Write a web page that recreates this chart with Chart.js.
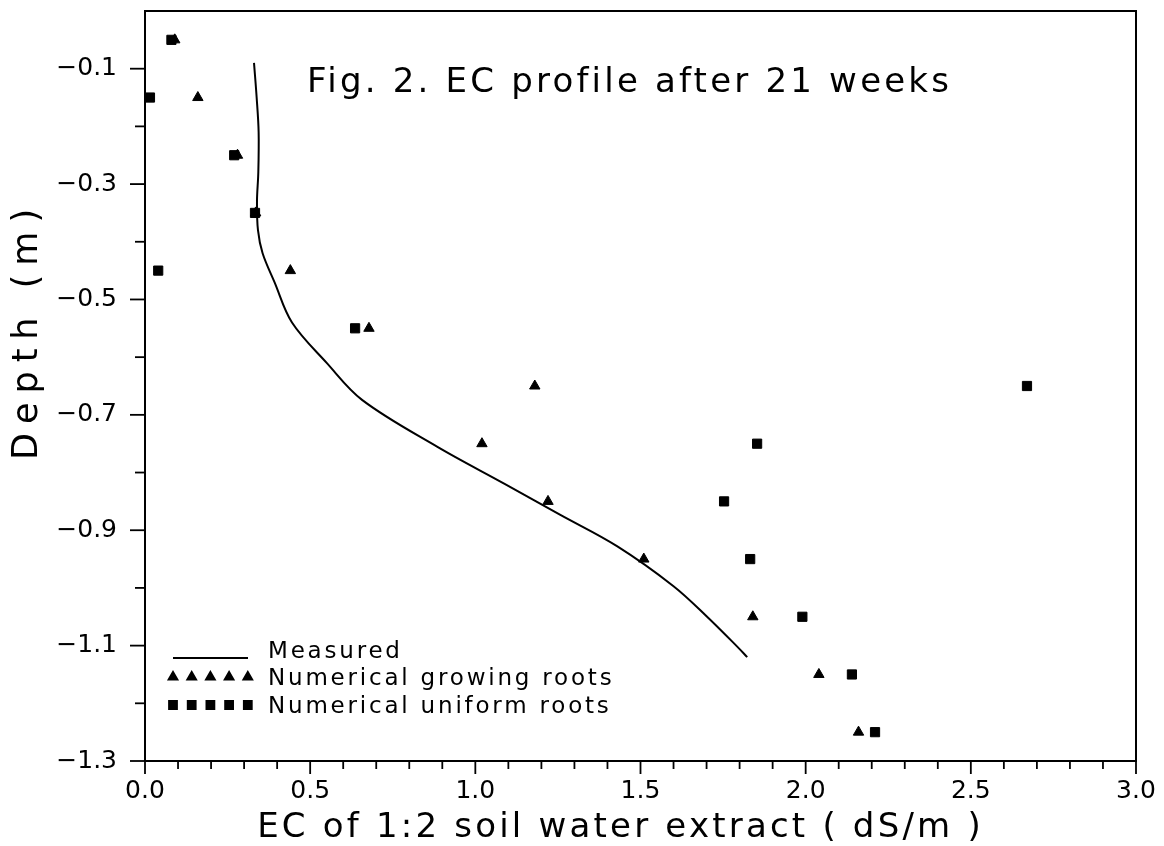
<!DOCTYPE html>
<html>
<head>
<meta charset="utf-8">
<title>EC profile after 21 weeks</title>
<script src="https://cdn.jsdelivr.net/npm/chart.js@4/dist/chart.umd.min.js"></script>
<style>
  html, body { margin: 0; padding: 0; background: #fff; }
</style>
</head>
<body>
<canvas id="ecChart" width="1164" height="846"></canvas>
<script>
// Depth of each sampled layer (m)
const depths = [-0.05, -0.15, -0.25, -0.35, -0.45, -0.55, -0.65, -0.75, -0.85, -0.95, -1.05, -1.15, -1.25];
// Simulated EC (dS/m) for each layer
const growingRoots = [0.09, 0.16, 0.28, 0.335, 0.44, 0.678, 1.18, 1.02, 1.22, 1.51, 1.84, 2.04, 2.16];
const uniformRoots = [0.08, 0.015, 0.27, 0.333, 0.04, 0.636, 2.67, 1.853, 1.753, 1.832, 1.99, 2.14, 2.21];
// Measured profile
const measuredEC = [0.330, 0.338, 0.344, 0.343, 0.339, 0.342, 0.356, 0.392, 0.445, 0.55, 0.657, 0.884, 1.09, 1.256, 1.43, 1.60, 1.70, 1.795, 1.823];
const measuredDepth = [-0.09, -0.15, -0.21, -0.28, -0.33, -0.38, -0.42, -0.47, -0.54, -0.61, -0.674, -0.755, -0.82, -0.873, -0.928, -0.997, -1.049, -1.103, -1.12];
// Labelled ticks
const xTickLabels = [0.0, 0.5, 1.0, 1.5, 2.0, 2.5, 3.0];
const yTickLabels = [-0.1, -0.3, -0.5, -0.7, -0.9, -1.1, -1.3];

const FONT = '"DejaVu Sans", sans-serif';

function isLabelled(v, list) {
  return list.some(l => Math.abs(l - v) < 1e-6);
}

function pairs(xs, ys) {
  return xs.map((x, i) => ({ x: x, y: ys[i] }));
}

// frame, tick marks, title text, legend and axis titles
const paperPlugin = {
  id: 'paper',
  afterDraw(chart) {
    const { ctx, chartArea: a, scales } = chart;
    ctx.save();
    ctx.strokeStyle = '#000';
    ctx.fillStyle = '#000';
    ctx.lineWidth = 2;
    ctx.strokeRect(a.left, a.top, a.right - a.left, a.bottom - a.top);

    ctx.lineWidth = 1.8;
    scales.x.ticks.forEach(t => {
      const px = scales.x.getPixelForValue(t.value);
      const len = isLabelled(t.value, xTickLabels) ? 13 : 8;
      ctx.beginPath();
      ctx.moveTo(px, a.bottom);
      ctx.lineTo(px, a.bottom + len);
      ctx.stroke();
    });
    scales.y.ticks.forEach(t => {
      if (t.value > -0.05) return;
      const py = scales.y.getPixelForValue(t.value);
      const len = isLabelled(t.value, yTickLabels) ? 15 : 10;
      ctx.beginPath();
      ctx.moveTo(a.left, py);
      ctx.lineTo(a.left - len, py);
      ctx.stroke();
    });

    // title inside the plot
    ctx.font = '34px ' + FONT;
    ctx.textBaseline = 'alphabetic';
    ctx.textAlign = 'left';
    ctx.letterSpacing = '3.2px';
    ctx.fillText('Fig. 2. EC profile after 21 weeks', a.left + 162, a.top + 81);

    // legend
    const lx = a.left + 28;
    const tx = a.left + 123;
    ctx.font = '23px ' + FONT;
    ctx.letterSpacing = '2.8px';
    ctx.lineWidth = 2;
    ctx.beginPath();
    ctx.moveTo(lx, a.bottom - 103);
    ctx.lineTo(lx + 75, a.bottom - 103);
    ctx.stroke();
    ctx.fillText('Measured', tx, a.bottom - 103);
    for (let i = 0; i < 5; i++) {
      Chart.helpers.drawPoint(ctx, { pointStyle: 'triangle', radius: 5, borderWidth: 1 }, lx + i * 18.7, a.bottom - 84);
      Chart.helpers.drawPoint(ctx, { pointStyle: 'rect', radius: 5.5, borderWidth: 1 }, lx + i * 18.7, a.bottom - 56);
    }
    ctx.fillText('Numerical growing roots', tx, a.bottom - 76);
    ctx.fillText('Numerical uniform roots', tx, a.bottom - 48);

    // axis titles
    ctx.font = '34px ' + FONT;
    ctx.letterSpacing = '3.2px';
    ctx.textAlign = 'center';
    ctx.fillText('EC of 1:2 soil water extract ( dS/m )', (a.left + a.right) / 2 - 20, a.bottom + 76);
    ctx.save();
    ctx.translate(37, 330);
    ctx.rotate(-Math.PI / 2);
    ctx.font = '35px ' + FONT;
    ctx.letterSpacing = '9px';
    ctx.fillText('Depth (m)', 0, 0);
    ctx.restore();
    ctx.restore();
  }
};

new Chart(document.getElementById('ecChart'), {
  type: 'scatter',
  data: {
    datasets: [
      {
        label: 'Measured',
        data: pairs(measuredEC, measuredDepth),
        showLine: true,
        tension: 0.35,
        pointRadius: 0,
        borderColor: '#000',
        borderWidth: 2
      },
      {
        label: 'Numerical growing roots',
        data: pairs(growingRoots, depths),
        pointStyle: 'triangle',
        pointRadius: 6,
        backgroundColor: '#000',
        borderColor: '#000',
        borderWidth: 1
      },
      {
        label: 'Numerical uniform roots',
        data: pairs(uniformRoots, depths),
        pointStyle: 'rect',
        pointRadius: 6.5,
        backgroundColor: '#000',
        borderColor: '#000',
        borderWidth: 1
      }
    ]
  },
  options: {
    responsive: false,
    animation: false,
    layout: { padding: { left: 0, top: 11, right: 28, bottom: 0 } },
    plugins: {
      legend: { display: false },
      tooltip: { enabled: false }
    },
    scales: {
      x: {
        type: 'linear',
        min: 0,
        max: 3,
        afterFit: s => { s.height = 85; s.paddingLeft = 0; s.paddingRight = 0; },
        border: { display: false },
        grid: { drawOnChartArea: false, drawTicks: true, tickLength: 13, tickColor: 'rgba(0,0,0,0)' },
        ticks: {
          stepSize: 0.1,
          autoSkip: false,
          maxRotation: 0,
          padding: 2,
          color: '#000',
          font: { family: FONT, size: 25 },
          callback: v => isLabelled(v, xTickLabels) ? v.toFixed(1) : ''
        }
      },
      y: {
        type: 'linear',
        min: -1.3,
        max: 0,
        afterFit: s => { s.width = 145; s.paddingTop = 0; s.paddingBottom = 0; },
        border: { display: false },
        grid: { drawOnChartArea: false, drawTicks: true, tickLength: 15, tickColor: 'rgba(0,0,0,0)' },
        ticks: {
          stepSize: 0.1,
          autoSkip: false,
          padding: 13,
          color: '#000',
          font: { family: FONT, size: 25 },
          callback: v => isLabelled(v, yTickLabels) ? '\u2212' + Math.abs(v).toFixed(1) : ''
        }
      }
    }
  },
  plugins: [paperPlugin]
});
</script>
</body>
</html>
